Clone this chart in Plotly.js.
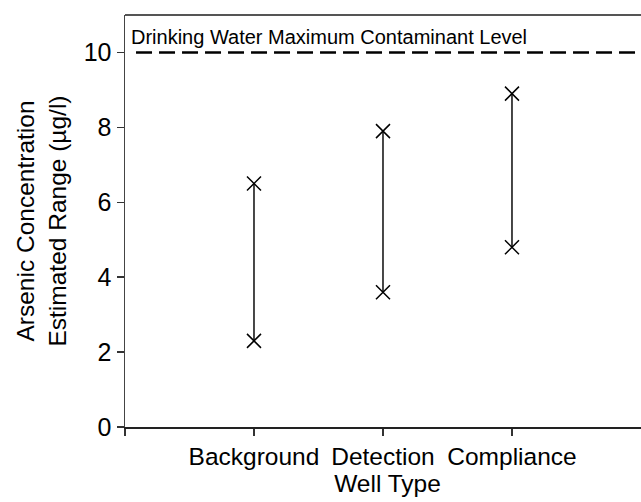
<!DOCTYPE html>
<html><head><meta charset="utf-8">
<script src="https://cdn.plot.ly/plotly-3.0.1.min.js"></script>
<style>html,body{margin:0;padding:0;background:#fff;overflow:hidden}</style>
</head><body><div id="chart" style="width:650px;height:502px"></div>
<script>
const categories = ["Background", "Detection", "Compliance"];
const lowValues = [2.3, 3.6, 4.8];
const highValues = [6.5, 7.9, 8.9];
const mclValue = 10;
const mclLabel = "Drinking Water Maximum Contaminant Level";
const yTicks = [0, 2, 4, 6, 8, 10];

const xs = [], ys = [];
categories.forEach((c, i) => {
  xs.push(i + 1, i + 1, null);
  ys.push(lowValues[i], highValues[i], null);
});
const font = "Liberation Sans, Arial, sans-serif";
const traces = [
  {x: xs, y: ys, mode: "lines", type: "scatter", line: {color: "#333", width: 1.8}, hoverinfo: "skip", connectgaps: false},
  {x: categories.map((c, i) => i + 1).concat(categories.map((c, i) => i + 1)),
   y: lowValues.concat(highValues), mode: "markers", type: "scatter",
   marker: {symbol: "x-thin-open", size: 14, color: "#000", line: {color: "#000", width: 1.5}}}
];
const layout = {
  width: 650, height: 502,
  margin: {l: 125, r: 0, t: 15, b: 75},
  showlegend: false,
  paper_bgcolor: "#fff", plot_bgcolor: "#fff",
  font: {family: font, color: "#000"},
  xaxis: {range: [0, 4.07], tickvals: [0, 1, 2, 3], ticktext: [""].concat(categories),
    showgrid: false, zeroline: false, showline: true, mirror: false, linecolor: "#222", linewidth: 1.5,
    ticks: "outside", ticklen: 7, tickcolor: "#333", tickwidth: 1.5,
    tickfont: {size: 24.5, family: font, color: "#000"},
    title: {text: "Well Type", font: {size: 24.5, family: font, color: "#000"}, standoff: 6}},
  yaxis: {range: [0, 11], tickvals: yTicks, showgrid: false, zeroline: false, showline: true,
    linecolor: "#444", linewidth: 1.5, ticks: "outside", ticklen: 7, tickcolor: "#333", tickwidth: 1.5,
    tickfont: {size: 25, family: font, color: "#000"},
    title: {text: "Arsenic Concentration<br>Estimated Range (µg/l)", font: {size: 24.5, family: font, color: "#000"}, standoff: 10}},
  shapes: [
    {type: "line", xref: "paper", yref: "paper", x0: 0, x1: 1, y0: 1, y1: 1,
      line: {color: "#555", width: 2}},
    {type: "line", xref: "paper", yref: "y", x0: 0.021, x1: 1, y0: mclValue, y1: mclValue,
      line: {color: "#000", width: 2.5, dash: "16px,7px"}}],
  annotations: [{xref: "paper", yref: "y", x: 0.008, y: mclValue, xanchor: "left", yanchor: "bottom",
    text: mclLabel, showarrow: false, yshift: 2, font: {size: 20, family: font, color: "#000"}}]
};
Plotly.newPlot("chart", traces, layout, {displayModeBar: false, staticPlot: true});
</script></body></html>
